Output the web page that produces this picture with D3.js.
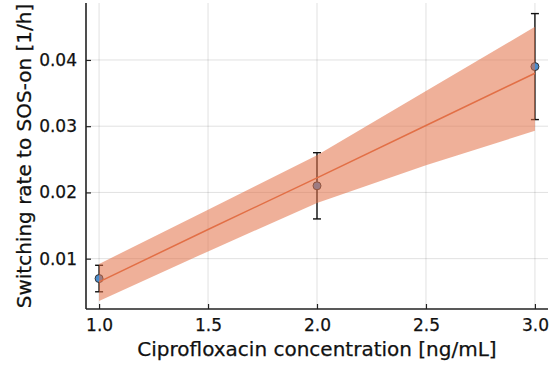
<!DOCTYPE html>
<html>
<head>
<meta charset="utf-8">
<script src="https://cdn.jsdelivr.net/npm/d3@7"></script>
<style>
  html, body { margin: 0; padding: 0; background: #fff; }
  svg { display: block; }
  text { font-family: "DejaVu Sans", sans-serif; fill: #111; }
</style>
</head>
<body>
<svg id="chart" width="549" height="367"></svg>
<script>
// ---- data ----
const concentrations = [1.0, 2.0, 3.0];
const rates = [0.007, 0.021, 0.039];
const errLow = [0.005, 0.016, 0.031];
const errHigh = [0.009, 0.026, 0.047];

const fitX = [1.0, 1.5, 2.0, 2.5, 3.0];
const fitMean = [0.0065, 0.0144, 0.0222, 0.0301, 0.0380];
const fitLower = [0.0036, 0.0111, 0.0184, 0.0241, 0.0293];
const fitUpper = [0.0092, 0.0174, 0.0256, 0.0353, 0.0450];

const xTicks = [1.0, 1.5, 2.0, 2.5, 3.0];
const yTicks = [0.01, 0.02, 0.03, 0.04];

const xLabel = "Ciprofloxacin concentration [ng/mL]";
const yLabel = "Switching rate to SOS-on [1/h]";

// ---- layout ----
const svg = d3.select("#chart");
const pL = 86, pR = 548, pT = 3, pB = 309;

const x = d3.scaleLinear().domain([0.94, 3.06]).range([pL, pR]);
const y = d3.scaleLinear().domain([0.0024, 0.0486]).range([pB, pT]);

// grid
const grid = svg.append("g");
grid.selectAll("line.gx").data(xTicks).join("line")
  .attr("x1", d => x(d)).attr("x2", d => x(d))
  .attr("y1", pT).attr("y2", pB)
  .attr("stroke", "#000").attr("stroke-opacity", 0.12).attr("stroke-width", 1);
grid.selectAll("line.gy").data(yTicks).join("line")
  .attr("y1", d => y(d)).attr("y2", d => y(d))
  .attr("x1", pL).attr("x2", pR)
  .attr("stroke", "#000").attr("stroke-opacity", 0.12).attr("stroke-width", 1);

// axes
const xAxis = d3.axisBottom(x).tickValues(xTicks).tickFormat(d3.format(".1f")).tickSizeInner(-5).tickSizeOuter(0).tickPadding(10);
const yAxis = d3.axisLeft(y).tickValues(yTicks).tickFormat(d3.format(".2f")).tickSizeInner(-5).tickSizeOuter(0).tickPadding(9);

const gx = svg.append("g").attr("transform", `translate(0,${pB})`).call(xAxis);
const gy = svg.append("g").attr("transform", `translate(${pL},0)`).call(yAxis);
[gx, gy].forEach(g => {
  g.select(".domain").attr("stroke", "#222").attr("stroke-width", 1.6);
  g.selectAll(".tick line").attr("stroke", "#222").attr("stroke-width", 1.2);
  g.selectAll(".tick text").attr("font-size", 17).attr("font-family", "DejaVu Sans")
    .attr("fill", "#111").attr("stroke", "#111").attr("stroke-width", 0.25);
});
gy.select(".domain").attr("d", `M0,${pT}V${pB}`);
gx.select(".domain").attr("d", `M${pL},0H${pR}`);

// error bars
const idx = d3.range(concentrations.length);
const eb = svg.append("g").attr("stroke", "#111").attr("stroke-width", 1.4);
eb.selectAll("line.v").data(idx).join("line")
  .attr("x1", i => x(concentrations[i])).attr("x2", i => x(concentrations[i]))
  .attr("y1", i => y(errLow[i])).attr("y2", i => y(errHigh[i]));
eb.selectAll("line.t").data(idx).join("line")
  .attr("x1", i => x(concentrations[i]) - 4).attr("x2", i => x(concentrations[i]) + 4)
  .attr("y1", i => y(errHigh[i])).attr("y2", i => y(errHigh[i]));
eb.selectAll("line.b").data(idx).join("line")
  .attr("x1", i => x(concentrations[i]) - 4).attr("x2", i => x(concentrations[i]) + 4)
  .attr("y1", i => y(errLow[i])).attr("y2", i => y(errLow[i]));

// markers
svg.append("g").selectAll("circle").data(idx).join("circle")
  .attr("cx", i => x(concentrations[i])).attr("cy", i => y(rates[i]))
  .attr("r", 4).attr("fill", "#4a8ccc").attr("stroke", "#333").attr("stroke-width", 1);

// band
const fitIdx = d3.range(fitX.length);
const area = d3.area().x(i => x(fitX[i])).y0(i => y(fitLower[i])).y1(i => y(fitUpper[i]));
svg.append("path").datum(fitIdx).attr("d", area)
  .attr("fill", "#e26f46").attr("fill-opacity", 0.55);

const line = d3.line().x(i => x(fitX[i])).y(i => y(fitMean[i]));
svg.append("path").datum(fitIdx).attr("d", line)
  .attr("fill", "none").attr("stroke", "#e26f46").attr("stroke-width", 1.5);

// labels
svg.append("text").attr("x", (pL + pR) / 2).attr("y", 356)
  .attr("text-anchor", "middle").attr("font-size", 20)
  .attr("stroke", "#111").attr("stroke-width", 0.25).text(xLabel);
svg.append("text").attr("transform", `translate(31,${(pT + pB) / 2}) rotate(-90)`)
  .attr("text-anchor", "middle").attr("font-size", 20)
  .attr("stroke", "#111").attr("stroke-width", 0.25).text(yLabel);
</script>
</body>
</html>
